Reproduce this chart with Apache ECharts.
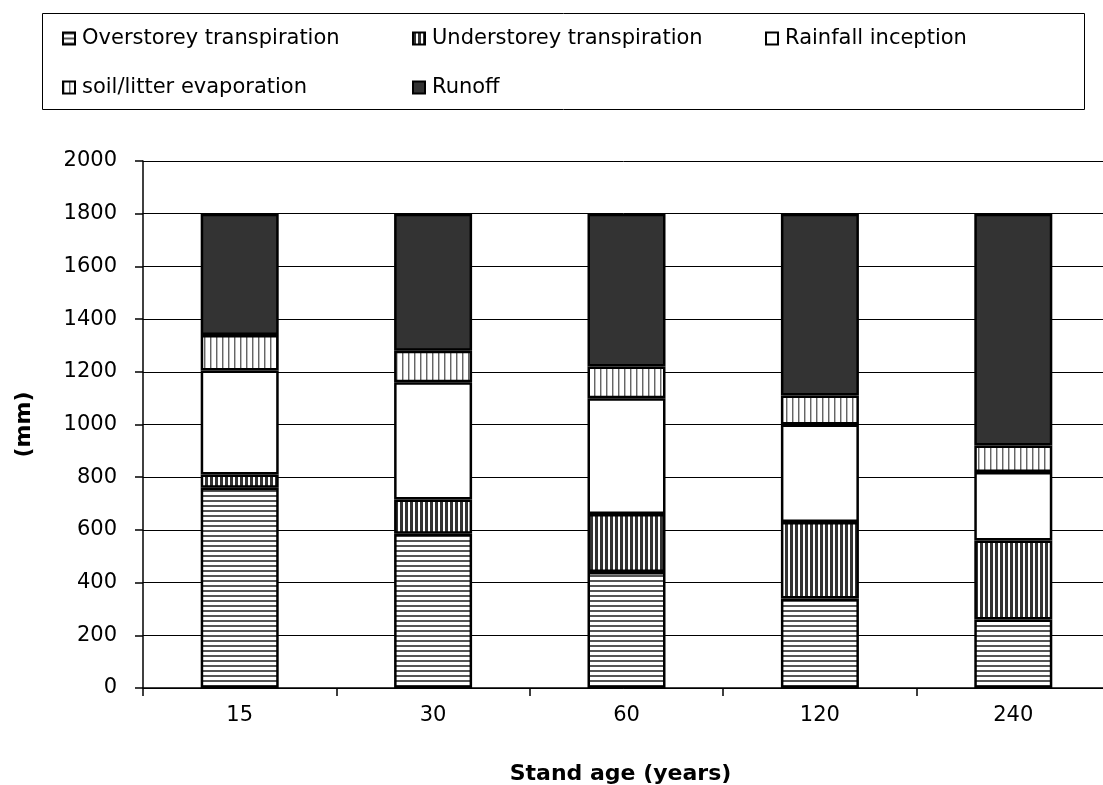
<!DOCTYPE html>
<html>
<head>
<meta charset="utf-8">
<script src="https://cdn.jsdelivr.net/npm/echarts@6/dist/echarts.min.js"></script>
<style>
  html, body { margin: 0; padding: 0; background: #fff; }
  #chart { width: 1103px; height: 785px; }
</style>
</head>
<body>
<div id="chart"></div>
<script>
// Annual water balance partitioning by stand age (mm)
const standAges = ['15', '30', '60', '120', '240'];
const overstoreyTranspiration = [760, 585, 440, 340, 260];
const understoreyTranspiration = [50, 130, 220, 290, 300];
const rainfallInception = [395, 445, 440, 370, 260];
const soilLitterEvaporation = [135, 120, 120, 110, 100];
const runoff = [460, 520, 580, 690, 880];
const yTicks = { min: 0, max: 2000, interval: 200 };

const FONT = '"DejaVu Sans", "Liberation Sans", Arial, sans-serif';

// Hatch fills built on small canvases
function hatch(w, h, draw) {
  const c = document.createElement('canvas');
  c.width = w; c.height = h;
  const ctx = c.getContext('2d');
  ctx.fillStyle = '#ffffff';
  ctx.fillRect(0, 0, w, h);
  draw(ctx);
  return { image: c, repeat: 'repeat' };
}
const horizLines = hatch(6, 5, ctx => { ctx.fillStyle = '#555'; ctx.fillRect(0, 0, 6, 2); });
const denseVert = hatch(5, 6, ctx => { ctx.fillStyle = '#333'; ctx.fillRect(0, 0, 3, 6); });
const lightVert = hatch(6, 6, ctx => { ctx.fillStyle = '#666'; ctx.fillRect(0, 0, 1, 6); ctx.fillStyle = '#bbb'; ctx.fillRect(1, 0, 1, 6); });

const seriesDefs = [
  { name: 'Overstorey transpiration', data: overstoreyTranspiration, color: horizLines },
  { name: 'Understorey transpiration', data: understoreyTranspiration, color: denseVert },
  { name: 'Rainfall inception', data: rainfallInception, color: '#ffffff' },
  { name: 'soil/litter evaporation', data: soilLitterEvaporation, color: lightVert },
  { name: 'Runoff', data: runoff, color: '#333333' }
];

const legendPos = [
  { left: 62, top: 28 },
  { left: 412, top: 28 },
  { left: 765, top: 28 },
  { left: 62, top: 77 },
  { left: 412, top: 77 }
];

const chart = echarts.init(document.getElementById('chart'), null, { renderer: 'canvas' });
chart.setOption({
  animation: false,
  backgroundColor: '#ffffff',
  textStyle: { fontFamily: FONT },
  graphic: [{
    type: 'rect',
    shape: { x: 42.5, y: 13.5, width: 1042, height: 96 },
    style: { fill: 'none', stroke: '#000', lineWidth: 1 },
    z: 0
  }],
  legend: seriesDefs.map((s, i) => ({
    data: [s.name],
    left: legendPos[i].left,
    top: legendPos[i].top,
    itemWidth: 12,
    itemHeight: 12,
    itemGap: 6,
    padding: 0,
    icon: 'rect',
    selectedMode: false,
    itemStyle: { borderColor: '#000', borderWidth: 2 },
    textStyle: { fontSize: 21, color: '#000', fontFamily: FONT, padding: [3, 0, 0, 2] }
  })),
  grid: { left: 143, top: 161, width: 967, height: 527, outerBoundsMode: 'none', containLabel: false },
  xAxis: {
    type: 'category',
    data: standAges,
    name: 'Stand age (years)',
    nameLocation: 'middle',
    nameGap: 75,
    nameTextStyle: { fontSize: 22, fontWeight: 'bold', color: '#000', fontFamily: FONT, padding: [0, 12, 0, 0] },
    axisLine: { lineStyle: { color: '#000', width: 1.5 } },
    axisTick: { show: true, length: 8, alignWithLabel: false, lineStyle: { color: '#000', width: 1.5 } },
    axisLabel: { fontSize: 21, color: '#000', margin: 17, fontFamily: FONT },
    splitLine: { show: false }
  },
  yAxis: {
    type: 'value',
    min: yTicks.min,
    max: yTicks.max,
    interval: yTicks.interval,
    name: '(mm)',
    nameLocation: 'middle',
    nameGap: 108,
    nameRotate: 90,
    nameTextStyle: { fontSize: 22, fontWeight: 'bold', color: '#000', fontFamily: FONT },
    axisLine: { show: true, lineStyle: { color: '#000', width: 1.5 } },
    axisTick: { show: true, length: 8, lineStyle: { color: '#000', width: 1.5 } },
    axisLabel: { fontSize: 21, color: '#000', margin: 26, fontFamily: FONT, formatter: v => String(v) },
    splitLine: { show: true, lineStyle: { color: '#000', width: 1 } }
  },
  series: seriesDefs.map(s => ({
    name: s.name,
    type: 'bar',
    stack: 'total',
    data: s.data,
    barWidth: 78,
    itemStyle: { color: s.color, borderColor: '#000', borderWidth: 2.5 },
    emphasis: { disabled: true }
  }))
});
</script>
</body>
</html>
